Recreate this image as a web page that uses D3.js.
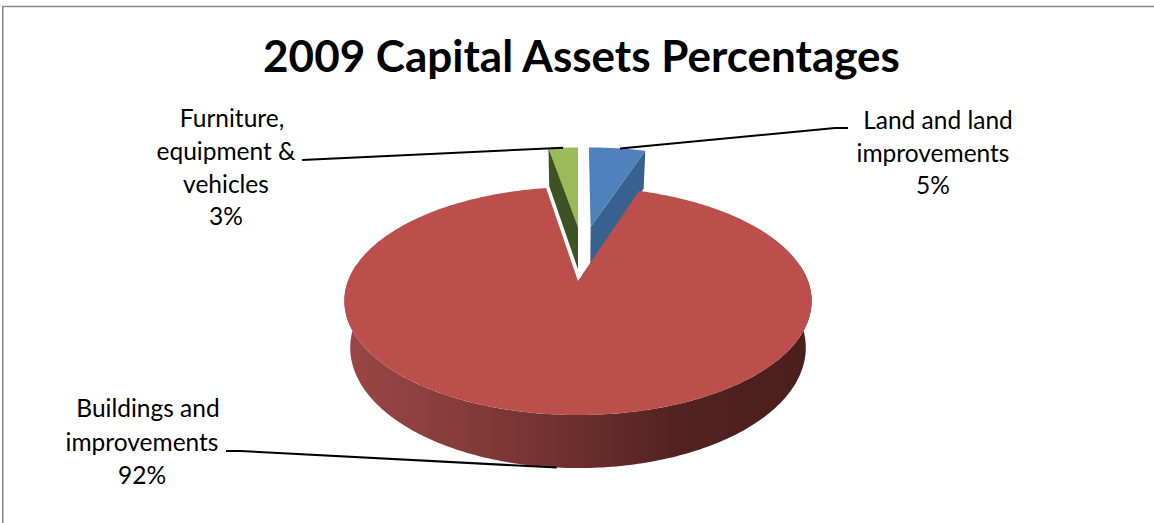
<!DOCTYPE html>
<html><head><meta charset="utf-8">
<script src="https://d3js.org/d3.v7.min.js"></script>
<style>html,body{margin:0;padding:0;background:#fff;overflow:hidden}svg{display:block}</style>
</head><body><div id="c"></div>
<script>
const categories = ["Land and land improvements","Buildings and improvements","Furniture, equipment & vehicles"];
const values = [5,92.4,2.6];
const percentLabels = ["5%","92%","3%"];
const labelLines = [["Land and land","improvements","5%"],["Buildings and","improvements","92%"],["Furniture,","equipment &","vehicles","3%"]];
const title = "2009 Capital Assets Percentages";

const W=1154,H=523;
const svg=d3.select("#c").append("svg").attr("width",W).attr("height",H);
const FONT="Lato,'Open Sans',sans-serif";

// perspective projection of the pie disc
const P={cx:578,cy:281,R:230,b:110.5,k:0.1754,depth:45.5,shrink:0.975};
function proj(X,Y,z){
  const w=1-P.k*Y;
  const d=z?P.depth/Math.pow(w,0.8):0, s=z?P.shrink:1;
  return [P.cx+s*P.R*X/w, P.cy+P.b*Y/w+d];
}
// per-slice look (index matches categories)
const look=[
 {top:"#4f81bd",wall:"#37618f",r:1,ex:[0.06,-0.534]},
 {top:"#bc4f4c",wall:null,r:1,ex:[0,0]},
 {top:"#9bbb59",wall:"#3f5224",r:1,ex:[0,-0.534]}
];
const arcs=d3.pie().sort(null).value(d=>d)(values);
const pt=(i,a,r,z)=>{const L=look[i];return proj(L.ex[0]+r*Math.sin(a),L.ex[1]-r*Math.cos(a),z);};
const line=d3.line();
function rim(i,a0,a1,z){const n=Math.max(4,Math.ceil(Math.abs(a1-a0)*60));
  return d3.range(n+1).map(j=>pt(i,a0+(a1-a0)*j/n,look[i].r,z));}

const defs=svg.append("defs");
const g=defs.append("linearGradient").attr("id","sideRed").attr("gradientUnits","userSpaceOnUse")
  .attr("x1",344).attr("x2",811).attr("y1",0).attr("y2",0);
[[0,"#9a4644"],[0.15,"#8f413f"],[0.4,"#763432"],[0.55,"#662c2a"],[0.7,"#55231f"],[0.85,"#4e201d"],[1,"#4a1f1c"]]
 .forEach(s=>g.append("stop").attr("offset",s[0]).attr("stop-color",s[1]));

// chart frame (open on the right and bottom)
svg.append("path").attr("d",`M2.75,${H}V6.5H${W}`).attr("fill","none").attr("stroke","#868686").attr("stroke-width",1.5);

// Land slice: right wall + top
(function(){const A=arcs[0],i=0;
  const outer=pt(i,A.endAngle,look[i].r,false),outerB=pt(i,A.endAngle,look[i].r,true);
  const ap=pt(i,0,0,false),apB=pt(i,0,0,true);
  svg.append("path").attr("d",line([ap,outer,outerB,apB])+"Z").attr("fill",look[i].wall);
  svg.append("path").attr("d",line([ap,...rim(i,A.startAngle,A.endAngle,false)])+"Z").attr("fill",look[i].top);
})();
// Furniture slice: left wall + top
(function(){const A=arcs[2],i=2;
  const outer=pt(i,A.startAngle,look[i].r,false),outerB=pt(i,A.startAngle,look[i].r,true);
  const ap=pt(i,0,0,false),apB=pt(i,0,0,true);
  svg.append("path").attr("d",line([ap,...rim(i,A.startAngle,A.endAngle,false)])+"Z").attr("fill",look[i].top);
  svg.append("path").attr("d",line([ap,outer,outerB,apB])+"Z").attr("fill",look[i].wall);
})();
// Buildings slice: front side + top
(function(){const A=arcs[1],i=1;
  const a0=Math.PI/2-0.15,a1=Math.PI*1.5+0.15; // front half of the rim
  const top=rim(i,a0,a1,false),bot=rim(i,a1,a0,true);
  svg.append("path").attr("d",line([...top,...bot])+"Z").attr("fill","url(#sideRed)");
  svg.append("path").attr("d",line([pt(i,0,0,false),...rim(i,A.startAngle,A.endAngle,false)])+"Z").attr("fill",look[i].top);
})();

// leaders (elbow + slanted run to the slice)
const leaders=[
 {pts:[[848,128],[835,128]],to:pt(0,(arcs[0].startAngle+arcs[0].endAngle)*0.55,look[0].r,false)},
 {pts:[[226,451],[240,451]],to:pt(1,Math.PI*1.025,1,true)},
 {pts:[[302,160]],to:pt(2,(arcs[2].startAngle+arcs[2].endAngle)/2,look[2].r,false)}
];
leaders.forEach(l=>svg.append("path").attr("d",line([...l.pts,l.to])).attr("fill","none").attr("stroke","#000").attr("stroke-width",2));

// text
svg.append("text").attr("x",581.5).attr("y",72).attr("text-anchor","middle")
  .attr("font-family",FONT).attr("font-weight",700).attr("font-size",44).attr("fill","#000").text(title);
const labelPos=[
 {x:[938,933,933],y:[129,162,194]},
 {x:[148,142,142],y:[417,451,484]},
 {x:[232,226,226,226],y:[127,160,193,225]}];
labelLines.forEach((ls,i)=>ls.forEach((t,j)=>svg.append("text").attr("x",labelPos[i].x[j]).attr("y",labelPos[i].y[j])
  .attr("text-anchor","middle").attr("font-family",FONT).attr("font-size",24.5).attr("fill","#000").text(t)));
</script></body></html>
